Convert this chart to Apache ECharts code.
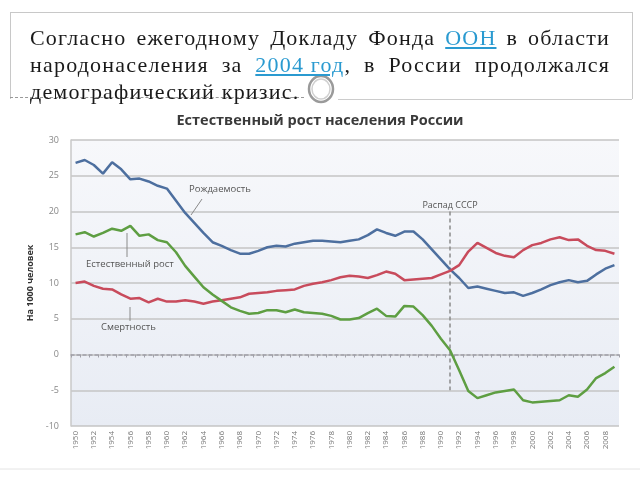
<!DOCTYPE html>
<html><head><meta charset="utf-8">
<script src="https://cdn.jsdelivr.net/npm/echarts@6/dist/echarts.min.js"></script>
<style>
html,body{margin:0;padding:0;background:#fff;}
#chart{position:absolute;left:0;top:0;width:640px;height:480px;}
#hdr{position:absolute;left:10px;top:12px;width:621px;height:86px;border:1px solid #c8c8c8;border-bottom:none;}
#txt{position:absolute;left:30px;top:24px;width:580px;font-family:"Liberation Serif","DejaVu Serif",serif;font-size:22px;letter-spacing:1.2px;line-height:27px;color:#1a1a1a;}
#txt .j{white-space:nowrap;display:flex;justify-content:space-between;}
#txt a{color:#2a9ad0;text-decoration:underline;}
#dash{position:absolute;left:10px;top:97px;width:294px;border-top:1px dashed #999;}
#solid{position:absolute;left:338px;top:99px;width:294px;border-top:1px solid #ccc;}
</style></head>
<body>
<div id="chart"></div>
<div id="hdr"></div>
<div id="dash"></div>
<div id="solid"></div>
<div id="txt">
<div class="j"><span>Согласно</span><span>ежегодному</span><span>Докладу</span><span>Фонда</span><span><a>ООН</a></span><span>в</span><span>области</span></div>
<div class="j"><span>народонаселения</span><span>за</span><span><a>2004 год</a>,</span><span>в</span><span>России</span><span>продолжался</span></div>
<div>демографический кризис.</div>
</div>
<script>
const years = [];
for (let y = 1950; y <= 2009; y++) years.push(String(y));

const births = [26.8,27.2,26.5,25.3,26.9,25.9,24.5,24.6,24.2,23.6,
  23.2,21.5,19.8,18.4,17.0,15.7,15.2,14.6,14.1,14.1,
  14.5,15.0,15.2,15.1,15.5,15.7,15.9,15.9,15.8,15.7,
  15.9,16.1,16.7,17.5,17.0,16.6,17.2,17.2,16.1,14.7,
  13.3,11.9,10.7,9.3,9.5,9.2,8.9,8.6,8.7,8.2,
  8.6,9.1,9.7,10.1,10.4,10.1,10.3,11.2,12.0,12.5];

const deaths = [10.0,10.2,9.6,9.2,9.1,8.4,7.8,7.9,7.3,7.8,
  7.4,7.4,7.6,7.4,7.1,7.4,7.6,7.8,8.0,8.5,
  8.6,8.7,8.9,9.0,9.1,9.6,9.9,10.1,10.4,10.8,
  11.0,10.9,10.7,11.1,11.6,11.3,10.4,10.5,10.6,10.7,
  11.2,11.7,12.5,14.4,15.6,14.9,14.2,13.8,13.6,14.6,
  15.3,15.6,16.1,16.4,16.0,16.1,15.2,14.6,14.5,14.1];

const growth = [16.8,17.1,16.5,17.0,17.6,17.3,18.0,16.6,16.8,16.0,
  15.7,14.3,12.4,10.9,9.4,8.4,7.5,6.6,6.1,5.7,
  5.8,6.2,6.2,5.9,6.3,5.9,5.8,5.7,5.4,4.9,
  4.9,5.1,5.8,6.4,5.4,5.3,6.8,6.7,5.5,4.0,
  2.2,0.6,-2.2,-5.1,-6.1,-5.7,-5.3,-5.1,-4.9,-6.4,
  -6.7,-6.6,-6.5,-6.4,-5.7,-5.9,-4.9,-3.3,-2.6,-1.7];

const yTicks = [-10,-5,0,5,10,15,20,25,30];
const seriesNames = ['Рождаемость','Смертность','Естественный рост'];
const colors = ['#4d6f9f','#c84b5c','#5e9e42'];
const collapseYear = '1991';

const chart = echarts.init(document.getElementById('chart'), null, {renderer:'canvas'});
const sans = '"Open Sans", "Liberation Sans", sans-serif';
const grid = {left:71, right:21, top:140, bottom:54};

function line(name, data, color, extra) {
  return Object.assign({
    name, type:'line', data, symbol:'none', smooth:false,
    lineStyle:{color, width:2.5}, itemStyle:{color}, z:5
  }, extra || {});
}

chart.setOption({
  animation:false,
  title:{text:'Естественный рост населения России', left:'center', top:108,
    textStyle:{fontFamily:sans, fontSize:14.5, fontWeight:'bold', color:'#3a3a3a'}},
  grid:Object.assign({show:true, borderWidth:0,
    backgroundColor:new echarts.graphic.LinearGradient(0,0,0,1,[{offset:0,color:'#f7f8fb'},{offset:1,color:'#e8ecf4'}])}, grid),
  xAxis:[{
    type:'category', data:years, boundaryGap:true,
    axisLine:{show:false, onZero:false}, axisTick:{show:false},
    axisLabel:{interval:1, rotate:90, fontSize:8, color:'#777', fontFamily:sans, margin:5},
    splitLine:{show:false}
  },{
    type:'category', data:years, boundaryGap:true, position:'bottom',
    axisLine:{show:true, onZero:true, lineStyle:{color:'#a0a0a8', width:1.5, type:[3,3]}},
    axisTick:{show:true, interval:0, length:3, inside:false, lineStyle:{color:'#a0a0a8'}},
    axisLabel:{show:false}, splitLine:{show:false}
  }],
  yAxis:{
    type:'value', min:yTicks[0], max:yTicks[yTicks.length-1], interval:5,
    name:'На 1000 человек', nameLocation:'middle', nameGap:36, nameRotate:90,
    nameTextStyle:{fontFamily:sans, fontSize:9, fontWeight:'bold', color:'#333'},
    axisLine:{show:true, lineStyle:{color:'#c8c8c8', width:1.5}}, axisTick:{show:false},
    axisLabel:{fontSize:9, color:'#888', fontFamily:sans, margin:12},
    splitLine:{lineStyle:{color:'#c4c4c4', width:1.5}}
  },
  series:[
    line(seriesNames[0], births, colors[0]),
    line(seriesNames[1], deaths, colors[1]),
    line(seriesNames[2], growth, colors[2], {
      markLine:{silent:true, symbol:'none',
        lineStyle:{color:'#8a8a8a', type:[4,3], width:1.5},
        label:{show:true, position:'start', formatter:'Распад СССР', fontSize:9, color:'#555', fontFamily:sans, distance:2},
        data:[[{coord:[collapseYear,20]},{coord:[collapseYear,-5]}]]
      }
    })
  ],
  graphic:[
    {type:'line', shape:{x1:0,y1:469,x2:640,y2:469}, style:{stroke:'#e4e4e4', lineWidth:1}},
    // annotations
    {type:'text', left:189, top:184, style:{text:'Рождаемость', fontSize:9.5, fill:'#555', fontFamily:sans}},
    {type:'line', shape:{x1:202,y1:199,x2:191,y2:215}, style:{stroke:'#8a8a8a', lineWidth:1}, z:10},
    {type:'text', left:86, top:259, style:{text:'Естественный рост', fontSize:9.5, fill:'#555', fontFamily:sans}},
    {type:'line', shape:{x1:127,y1:233,x2:127,y2:257}, style:{stroke:'#8a8a8a', lineWidth:1}, z:10},
    {type:'text', left:101, top:322, style:{text:'Смертность', fontSize:9.5, fill:'#555', fontFamily:sans}},
    {type:'line', shape:{x1:130,y1:307,x2:130,y2:321}, style:{stroke:'#8a8a8a', lineWidth:1}, z:10},
    // circle glyph
    {type:'ellipse', shape:{cx:321, cy:89, rx:12, ry:13}, style:{fill:'#fff', stroke:'#9a9a9a', lineWidth:2.5}},
    {type:'ellipse', shape:{cx:321, cy:89, rx:9, ry:10}, style:{fill:'none', stroke:'#d0d0d0', lineWidth:1.5}}
  ]
});
</script>
</body></html>
